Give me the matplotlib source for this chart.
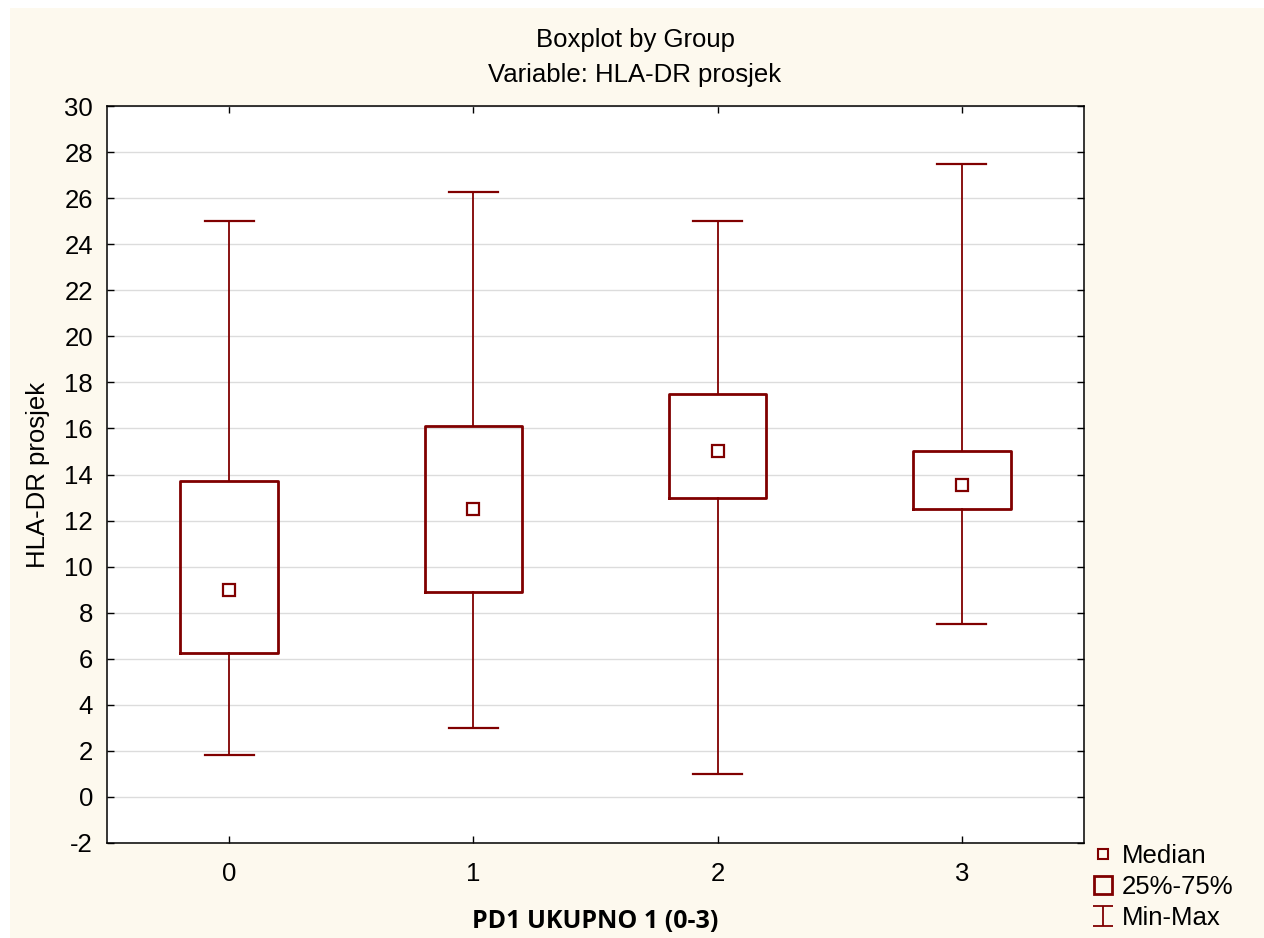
import matplotlib.pyplot as plt
from matplotlib.lines import Line2D
from matplotlib.path import Path
from matplotlib.patches import Rectangle

# data
groups = [0, 1, 2, 3]
mins = [1.8, 3.0, 1.0, 7.5]
q1s = [6.25, 8.9, 13.0, 12.5]
medians = [9.0, 12.5, 15.0, 13.55]
q3s = [13.7, 16.1, 17.5, 15.0]
maxs = [25.0, 26.25, 25.0, 27.5]
yticks = list(range(-2, 31, 2))

red = "#800000"
cream = "#fdf9ee"

plt.rcParams['font.family'] = ['Liberation Sans', 'DejaVu Sans']
plt.rcParams['axes.unicode_minus'] = False

fig = plt.figure(figsize=(12.64, 9.38), dpi=100)
fig.patch.set_facecolor("white")
# cream panel (small white border on left/top)
fig.patches.append(Rectangle((10 / 1264, 0), 1, 1 - 8 / 938, transform=fig.transFigure,
                             facecolor=cream, edgecolor="none", zorder=-10))

ax = fig.add_axes([107 / 1264, 1 - 843 / 938, (1084 - 107) / 1264, (843 - 106) / 938])
ax.set_facecolor("white")

stats = []
for g, lo, a, m, b, hi in zip(groups, mins, q1s, medians, q3s, maxs):
    stats.append(dict(med=m, q1=a, q3=b, whislo=lo, whishi=hi, fliers=[], label=str(g)))

ax.bxp(stats, positions=groups, widths=0.4, capwidths=0.2, showfliers=False,
       boxprops=dict(color=red, linewidth=2.0),
       whiskerprops=dict(color=red, linewidth=1.3),
       capprops=dict(color=red, linewidth=1.6),
       medianprops=dict(linewidth=0),
       patch_artist=False, zorder=3)
ax.plot(groups, medians, linestyle="none", marker="s", markersize=9,
        markerfacecolor="none", markeredgecolor=red, markeredgewidth=1.6, zorder=4)

ax.set_xlim(-0.5, 3.5)
ax.set_ylim(-2, 30)
ax.set_yticks(yticks)
ax.set_xticks(groups)
ax.set_xticklabels([str(g) for g in groups])
ax.yaxis.grid(True, color="#dcdcdc", linewidth=1.0)
ax.set_axisbelow(True)
ax.tick_params(direction="in", length=5, width=1, labelsize=18.5, top=True, right=True,
               colors="black")
ax.tick_params(axis="x", pad=14)
ax.tick_params(axis="y", pad=10)
for s in ax.spines.values():
    s.set_linewidth(1.1)
    s.set_color("black")

ax.set_ylabel("HLA-DR prosjek", fontsize=18.5, labelpad=10)
ax.set_xlabel("PD1 UKUPNO 1 (0-3)", fontsize=18, fontweight="bold",
              family=["Open Sans", "DejaVu Sans"], labelpad=16)

fig.text(635 / 1264, 1 - 40 / 938, "Boxplot by Group", ha="center", va="center", fontsize=18.5)
fig.text(635 / 1264, 1 - 75 / 938, "Variable: HLA-DR prosjek", ha="center", va="center", fontsize=18.5)

# legend
ibeam = Path([(-1, 1), (1, 1), (0, 1), (0, -1), (-1, -1), (1, -1)],
             [Path.MOVETO, Path.LINETO, Path.MOVETO, Path.LINETO, Path.MOVETO, Path.LINETO])
handles = [
    Line2D([], [], linestyle="none", marker="s", markersize=7, markerfacecolor="none",
           markeredgecolor=red, markeredgewidth=1.5),
    Line2D([], [], linestyle="none", marker="s", markersize=13, markerfacecolor="none",
           markeredgecolor=red, markeredgewidth=2.0),
    Line2D([], [], linestyle="none", marker=ibeam, markersize=15, markerfacecolor="none",
           markeredgecolor=red, markeredgewidth=1.3),
]
fig.legend(handles, ["Median", "25%-75%", "Min-Max"], loc="upper left",
           bbox_to_anchor=(1090 / 1264, 1 - 844 / 938), frameon=False, fontsize=18.5,
           handlelength=1.0, handletextpad=0.25, labelspacing=0.28, borderaxespad=0,
           borderpad=0)

fig.savefig("out.png", dpi=100, facecolor=fig.get_facecolor())
